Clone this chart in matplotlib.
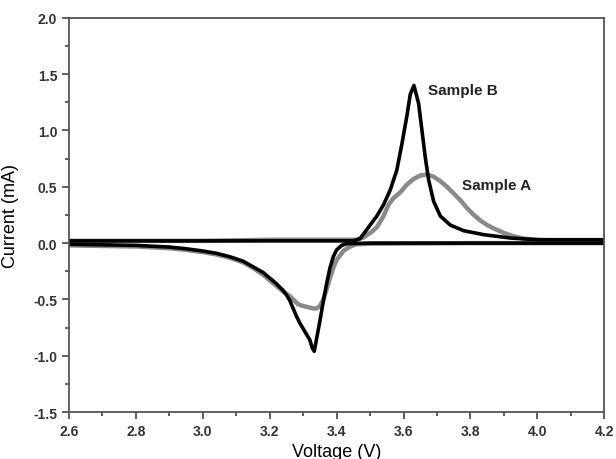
import matplotlib
matplotlib.use("Agg")
import matplotlib.pyplot as plt
from matplotlib.ticker import MultipleLocator

# Sample A (grey) - anodic (forward) and cathodic (reverse) scans
a_fwd_v = [2.60, 2.80, 3.00, 3.20, 3.40, 3.46, 3.48, 3.50, 3.52, 3.54, 3.555, 3.57, 3.59,
           3.61, 3.63, 3.65, 3.67, 3.69, 3.71, 3.73, 3.75, 3.77, 3.79, 3.81, 3.83, 3.85,
           3.87, 3.90, 3.93, 3.96, 4.00, 4.10, 4.20]
a_fwd_i = [0.02, 0.02, 0.02, 0.03, 0.03, 0.03, 0.05, 0.09, 0.14, 0.24, 0.34, 0.40, 0.45,
           0.52, 0.57, 0.60, 0.61, 0.59, 0.55, 0.50, 0.44, 0.38, 0.31, 0.25, 0.20, 0.16,
           0.13, 0.09, 0.06, 0.04, 0.03, 0.02, 0.02]
a_rev_v = [4.20, 3.80, 3.50, 3.46, 3.44, 3.42, 3.40, 3.39, 3.38, 3.37, 3.36, 3.35, 3.34,
           3.33, 3.31, 3.29, 3.28, 3.27, 3.26, 3.24, 3.22, 3.20, 3.18, 3.15, 3.12, 3.08,
           3.04, 3.00, 2.95, 2.90, 2.80, 2.70, 2.60]
a_rev_i = [0.00, 0.00, -0.005, -0.01, -0.03, -0.07, -0.15, -0.22, -0.31, -0.41, -0.50, -0.56,
           -0.58, -0.58, -0.565, -0.55, -0.53, -0.50, -0.47, -0.43, -0.38, -0.33, -0.28,
           -0.22, -0.17, -0.13, -0.10, -0.08, -0.06, -0.045, -0.03, -0.025, -0.02]

# Sample B (black)
b_fwd_v = [2.60, 2.80, 3.00, 3.20, 3.40, 3.45, 3.47, 3.48, 3.50, 3.52, 3.54, 3.56, 3.58,
           3.595, 3.61, 3.62, 3.631, 3.645, 3.655, 3.665, 3.675, 3.69, 3.71, 3.74,
           3.78, 3.84, 3.92, 4.00, 4.10, 4.20]
b_fwd_i = [0.02, 0.02, 0.02, 0.02, 0.02, 0.02, 0.04, 0.08, 0.16, 0.24, 0.34, 0.47, 0.65,
           0.88, 1.13, 1.32, 1.40, 1.24, 1.00, 0.76, 0.56, 0.37, 0.24, 0.16, 0.11,
           0.075, 0.045, 0.03, 0.03, 0.03]
b_rev_v = [4.20, 3.80, 3.50, 3.43, 3.415, 3.40, 3.39, 3.38, 3.37, 3.36, 3.35, 3.34, 3.333,
           3.327, 3.32, 3.31, 3.30, 3.29, 3.28, 3.27, 3.26, 3.25, 3.24, 3.22, 3.20, 3.18,
           3.15, 3.12, 3.08, 3.04, 3.00, 2.95, 2.90, 2.80, 2.70, 2.60]
b_rev_i = [0.00, 0.00, 0.00, -0.005, -0.02, -0.06, -0.12, -0.22, -0.36, -0.52, -0.69, -0.85,
           -0.96, -0.93, -0.86, -0.81, -0.76, -0.71, -0.65, -0.58, -0.51, -0.46, -0.42,
           -0.36, -0.31, -0.26, -0.21, -0.16, -0.12, -0.09, -0.07, -0.05, -0.035, -0.02,
           -0.015, -0.01]

plt.rcParams['font.family'] = ['Liberation Sans', 'DejaVu Sans']
plt.rcParams['axes.unicode_minus'] = False

fig = plt.figure(figsize=(6.16, 4.6), dpi=100)
ax = fig.add_axes([0.112, 0.102, 0.869, 0.857])

grey = '#8a8a8a'
for v, i in [(a_fwd_v, a_fwd_i), (a_rev_v, a_rev_i)]:
    ax.plot(v, i, color=grey, lw=3.2, solid_joinstyle='round', solid_capstyle='round')
for v, i in [(b_fwd_v, b_fwd_i), (b_rev_v, b_rev_i)]:
    ax.plot(v, i, color='black', lw=2.6, solid_joinstyle='round', solid_capstyle='round')

ax.text(3.672, 1.36, 'Sample B', fontsize=11, fontweight='bold', color='#222222', va='center')
ax.text(3.775, 0.52, 'Sample A', fontsize=11, fontweight='bold', color='#222222', va='center')

ax.set_xlim(2.6, 4.2)
ax.set_ylim(-1.5, 2.0)
ax.xaxis.set_major_locator(MultipleLocator(0.2))
ax.xaxis.set_minor_locator(MultipleLocator(0.1))
ax.yaxis.set_major_locator(MultipleLocator(0.5))
ax.yaxis.set_minor_locator(MultipleLocator(0.25))
ax.tick_params(which='both', direction='out', color='#444444', width=1.2,
               labelsize=10, labelcolor='#333333', top=False, right=False)
ax.tick_params(which='major', length=5)
ax.tick_params(which='minor', length=3)
for lab in ax.get_xticklabels() + ax.get_yticklabels():
    lab.set_fontweight('bold')
for sp in ax.spines.values():
    sp.set_color('#555555')
    sp.set_linewidth(1.3)

ax.set_xlabel('Voltage (V)', fontsize=13, labelpad=4)
ax.set_ylabel('Current (mA)', fontsize=13, labelpad=10)

fig.savefig('out.png', dpi=100)
